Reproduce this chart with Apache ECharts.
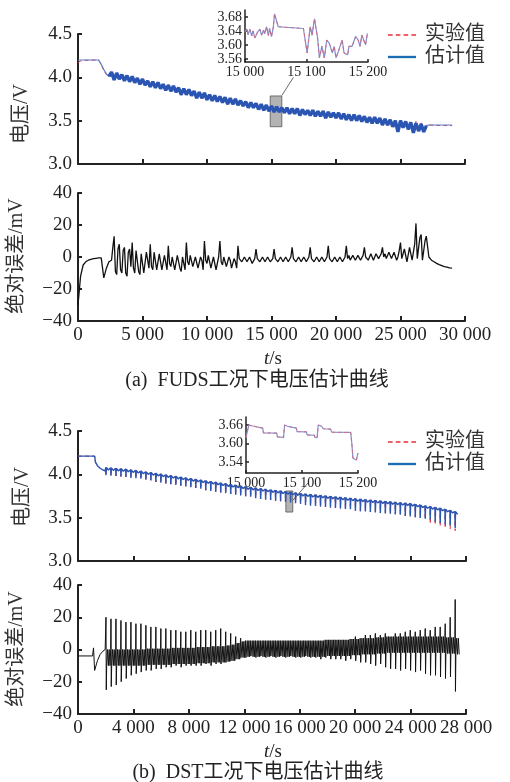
<!DOCTYPE html>
<html>
<head>
<meta charset="utf-8">
<script src="https://cdn.jsdelivr.net/npm/echarts@6/dist/echarts.min.js"></script>
<style>
html, body { margin: 0; padding: 0; background: #fff; }
#chartmain { width: 510px; height: 782px; }
</style>
</head>
<body>
<div id="chartmain"></div>
<script>
var FONT = "'Liberation Serif', 'Noto Sans CJK SC', serif";

// FUDS: 每200 s一个采样点, 0 ~ 29000 s
var fudsStep = 200;
var fudsVolt = [
    4.20, 4.20, 4.20, 4.20, 4.20, 4.20, 4.20, 4.20, 4.20, 4.15, 4.09, 4.04, 4.01,
    4.06, 3.97, 4.05, 3.98, 4.03, 3.96, 4.02, 3.95, 4.01, 3.94,
    3.99, 3.92, 3.98, 3.91, 3.96, 3.89, 3.95, 3.88, 3.94, 3.87,
    3.92, 3.85, 3.91, 3.84, 3.90, 3.83, 3.88, 3.80, 3.87, 3.80,
    3.86, 3.79, 3.84, 3.76, 3.83, 3.76, 3.82, 3.74, 3.80, 3.73,
    3.79, 3.72, 3.78, 3.71, 3.77, 3.69, 3.76, 3.69, 3.75, 3.68,
    3.73, 3.67, 3.72, 3.65, 3.71, 3.65, 3.70, 3.63, 3.69, 3.62,
    3.68, 3.61, 3.67, 3.60, 3.66, 3.60, 3.65, 3.59, 3.65, 3.58,
    3.64, 3.58, 3.64, 3.56, 3.63, 3.57, 3.62, 3.56, 3.62, 3.55,
    3.61, 3.55, 3.61, 3.53, 3.60, 3.54, 3.59, 3.53, 3.59, 3.52,
    3.58, 3.51, 3.57, 3.50, 3.57, 3.50, 3.56, 3.49, 3.55, 3.48,
    3.54, 3.47, 3.54, 3.47, 3.53, 3.45, 3.52, 3.45, 3.51, 3.43,
    3.50, 3.37, 3.50, 3.42, 3.49, 3.40, 3.48, 3.36, 3.47, 3.38,
    3.46, 3.37, 3.44,
    3.45, 3.45, 3.45, 3.45, 3.45, 3.45, 3.45, 3.45, 3.45, 3.45
];
// 工况段(噪声带)在采样序列中的起止下标
var fudsBandFrom = 12, fudsBandTo = 136;
var fudsErr = [ // mV
    -30, -12, -5, -3, -2, -1.5, -1, -0.8, -0.6, -0.5, -13, -7, -3,
    -2, 13, -11, 8, -10, 6, -12, 5, 9, -10,
    4, -11, 3, -9, 2, 8, -8, 2, -9, 1,
    -8, 0, 7, -6, 1, -7, 0, -9, -1, 9,
    -5, 0, -7, -1, -8, -2, 10, -4, 0, -6,
    -1, -9, 10, -5, -1, -7, -2, -8, -3, 7,
    -1, -4, -1, -4, -2, -4, 5, -1, -3, -1,
    -3, -1, -4, 5, -1, -3, 0, -3, -1, -3,
    6, 0, -2, 0, -3, -1, -3, 6, 0, -2,
    0, -2, -1, -3, 7, 0, -2, 0, -2, -1,
    -3, 7, 1, -1, 1, -1, 0, -2, 6, 1,
    0, 1, -1, 1, 0, 6, 2, 0, 3, -1,
    2, 0, 9, 0, 4, -2, 5, -3, 21, 0,
    14, -2, 13,
    0, -2, -3, -4, -4.8, -5.4, -6, -6.4, -6.8, -7
];
// 噪声段中间时刻(t+100 s)的误差, 2700 ~ 26900 s
var fudsErrFirstBand = 13;
var fudsErrAlt = [
    6, -9, 5, -8, 4, -10, 3, -6, -7, 4,
    -9, 2, -10, 3, -7, -6, 3, -8, 2, -8,
    1, -8, -4, 0, -8, 1, -7, 0, -8, -3,
    1, -6, 0, -7, 0, -8, -2, 1, -7, 0,
    -8, 0, -3, 0, -6, 0, -7, -1, -7, -1,
    -3, 0, -3, 0, -4, -1, -1, -3, 0, -3,
    0, -3, -1, -1, -3, 0, -3, 0, -3, 0,
    -1, -3, 0, -3, 0, -3, 0, -1, -3, 0,
    -3, 0, -3, 0, -1, -3, 0, -3, 0, -3,
    0, -1, -2, 1, -2, 1, -2, 1, 0, -2,
    2, -2, 2, -1, 2, 0, -1, 3, -1, 3,
    -2, 4, -1, 5, -3, 6, -2, 8, -1, 12,
    -2, 10
];
var fudsZoomTime = [15000, 15003, 15005, 15008, 15011, 15013, 15016, 15020, 15024, 15027,
    15030, 15032, 15035, 15038, 15040, 15043, 15046, 15048, 15051, 15054, 15056, 15095,
    15101, 15106, 15109, 15113, 15115, 15118, 15121, 15125, 15129, 15133, 15137, 15142,
    15145, 15148, 15152, 15158, 15161, 15167, 15169, 15174, 15180, 15184, 15187, 15190,
    15192, 15196, 15199];
var fudsZoomVolt = [3.638, 3.645, 3.630, 3.644, 3.626, 3.640, 3.620, 3.635, 3.645, 3.628,
    3.642, 3.632, 3.652, 3.627, 3.647, 3.624, 3.650, 3.689, 3.685, 3.652, 3.647, 3.647,
    3.577, 3.652, 3.628, 3.675, 3.680, 3.620, 3.563, 3.596, 3.563, 3.614, 3.605, 3.577,
    3.596, 3.563, 3.582, 3.614, 3.577, 3.572, 3.596, 3.596, 3.624, 3.614, 3.596, 3.628,
    3.619, 3.600, 3.633];

// DST: 静置段 + 每360 s一个循环
var dstPreTime = [0, 1050, 1120, 1200, 1260, 1400, 1600, 1800, 1960];
var dstPreVolt = [4.21, 4.21, 4.21, 4.21, 4.14, 4.10, 4.07, 4.05, 4.04];
var dstPreErr = [-4, -4, 1, -13, -12, -7, -3, -1, 0];
var dstStart = 2000;
var dstPeriod = 360;
var dstTop = [
    4.08, 4.075, 4.07, 4.065, 4.06, 4.052, 4.046, 4.038, 4.029, 4.021,
    4.012, 4.004, 3.995, 3.987, 3.978, 3.97, 3.961, 3.952, 3.944, 3.935,
    3.927, 3.918, 3.91, 3.901, 3.893, 3.884, 3.876, 3.867, 3.858, 3.851,
    3.844, 3.837, 3.83, 3.823, 3.816, 3.809, 3.802, 3.795, 3.788, 3.78,
    3.775, 3.769, 3.764, 3.759, 3.753, 3.748, 3.742, 3.737, 3.731, 3.726,
    3.72, 3.715, 3.71, 3.705, 3.7, 3.695, 3.69, 3.685, 3.68, 3.675,
    3.67, 3.665, 3.656, 3.647, 3.638, 3.629, 3.62, 3.61, 3.598, 3.585,
    3.57
];
var dstLow = [
    3.99, 3.985, 3.98, 3.975, 3.97, 3.962, 3.956, 3.948, 3.939, 3.931,
    3.912, 3.904, 3.895, 3.887, 3.878, 3.87, 3.861, 3.852, 3.844, 3.835,
    3.817, 3.808, 3.8, 3.791, 3.783, 3.774, 3.766, 3.757, 3.748, 3.741,
    3.724, 3.717, 3.71, 3.703, 3.696, 3.689, 3.682, 3.675, 3.668, 3.66,
    3.645, 3.639, 3.634, 3.629, 3.623, 3.618, 3.612, 3.607, 3.601, 3.596,
    3.58, 3.575, 3.57, 3.565, 3.56, 3.555, 3.55, 3.545, 3.54, 3.535,
    3.52, 3.515, 3.506, 3.497, 3.488, 3.479, 3.45, 3.44, 3.42, 3.41,
    3.38
];
// 末尾几个循环实验值比估计值更低
var dstExpLowTail = [3.43, 3.42, 3.40, 3.38, 3.37, 3.35];
var dstBandV = 0.03;
var dstErrHi = [
    20, 19, 19, 18, 17, 17, 16, 16, 15, 14,
    14, 13, 13, 12, 12, 11, 11, 12, 11, 12,
    12, 11, 12, 13, 11, 10, 8, 7, 6, 6,
    5, 6, 5, 5, 6, 5, 5, 6, 5, 5,
    6, 5, 6, 5, 6, 6, 6, 7, 6, 7,
    8, 8, 9, 9, 10, 9, 10, 9, 10, 10,
    11, 12, 11, 12, 13, 12, 14, 14, 16, 20,
    31
];
var dstErrLo = [
    -25, -23, -22, -20, -18, -16, -15, -14, -13, -13,
    -12, -12, -11, -11, -10, -11, -10, -10, -10, -10,
    -9, -10, -9, -9, -8, -7, -6, -5, -5, -4,
    -5, -4, -5, -4, -5, -4, -5, -4, -5, -5,
    -4, -5, -5, -6, -5, -6, -6, -6, -7, -6,
    -7, -8, -8, -9, -10, -9, -11, -12, -12, -13,
    -12, -13, -14, -13, -15, -16, -16, -17, -18, -17,
    -26
];
var dstErrMid = [
    -5, -5, -5, -5, -5, -5, -5, -5, -4.5, -4.5,
    -4.5, -4.5, -4.5, -4, -4, -4, -4, -4, -3.5, -3.5,
    -3.5, -3, -3, -3, -2.5, -2, -1, 0, 0.5, 0.5,
    0.5, 0.5, 0.5, 0.5, 0.5, 0.5, 0.5, 0.5, 0.5, 0.5,
    0.5, 0.5, 0.5, 0.5, 1, 1, 1, 1, 1, 1.5,
    1.5, 2, 2, 2, 2.5, 2.5, 3, 3, 3, 3,
    3, 3, 3, 3, 3, 3, 3, 3, 2.5, 2.5,
    2
];
var dstErrBand = 5;
var dstZoomTime = [15000, 15001, 15005, 15012, 15013, 15030, 15031, 15055, 15056, 15067,
    15069, 15074, 15077, 15090, 15091, 15108, 15109, 15122, 15123, 15127, 15129, 15135,
    15138, 15151, 15153, 15187, 15189, 15191, 15197, 15200];
var dstZoomVolt = [3.62, 3.62, 3.66, 3.657, 3.651, 3.650, 3.635, 3.634, 3.622, 3.620,
    3.66, 3.656, 3.651, 3.650, 3.639, 3.638, 3.628, 3.627, 3.620, 3.619, 3.66, 3.656,
    3.648, 3.647, 3.637, 3.636, 3.60, 3.553, 3.547, 3.569];

// ---- 组装数据 ----
var fudsEstData = fudsVolt.map(function (v, i) { return [i * fudsStep, v]; });
var fudsBandData = fudsEstData.slice(fudsBandFrom, fudsBandTo);
var fudsExpData = fudsVolt.map(function (v, i) { return [i * fudsStep, v + fudsErr[i] / 1000]; });
var fudsErrData = [];
fudsErr.forEach(function (e, i) {
    fudsErrData.push([i * fudsStep, e]);
    var k = i - fudsErrFirstBand;
    if (k >= 0 && k < fudsErrAlt.length) {
        fudsErrData.push([i * fudsStep + fudsStep / 2, fudsErrAlt[k]]);
    }
});

var dstEstData = [], dstExpData = [], dstErrData = [];
dstPreTime.forEach(function (t, i) {
    dstEstData.push([t, dstPreVolt[i]]);
    dstExpData.push([t, dstPreVolt[i]]);
    dstErrData.push([t, dstPreErr[i]]);
});
var tailFrom = dstTop.length - dstExpLowTail.length;
dstTop.forEach(function (top, i) {
    var t0 = dstStart + i * dstPeriod;
    var expLow = i >= tailFrom ? dstExpLowTail[i - tailFrom] : dstLow[i];
    dstEstData.push([t0, top], [t0 + 20, dstLow[i]], [t0 + 45, top], [t0 + 190, top - dstBandV]);
    dstExpData.push([t0, top], [t0 + 20, expLow], [t0 + 45, top], [t0 + 190, top - dstBandV]);
    var m = dstErrMid[i], b = dstErrBand;
    dstErrData.push([t0, m + b], [t0 + 20, dstErrHi[i]], [t0 + 40, dstErrLo[i]], [t0 + 70, m - b],
        [t0 + 130, m + b], [t0 + 190, m - b], [t0 + 250, m + b], [t0 + 310, m - b]);
});
var fudsZoomData = fudsZoomTime.map(function (t, i) { return [t, fudsZoomVolt[i]]; });
var dstZoomData = dstZoomTime.map(function (t, i) { return [t, dstZoomVolt[i]]; });

// ---- 坐标轴 ----
function thin(v) { return String(v).replace(/\B(?=(\d{3})+(?!\d))/g, ' '); }
function minus(v) { return v < 0 ? '\u2212' + (-v) : String(v); }

var AX = '#222';
function mainX(gi, max, itv, showLabel) {
    return {
        gridIndex: gi, type: 'value', min: 0, max: max, interval: itv,
        axisLine: { onZero: false, lineStyle: { color: AX, width: 2 } },
        axisTick: { inside: true, length: 5, lineStyle: { color: AX, width: 2 } },
        axisLabel: { show: showLabel, color: AX, fontSize: 19, fontFamily: FONT, margin: 5, formatter: thin },
        splitLine: { show: false }
    };
}
function mainY(gi, min, max, itv, fmt) {
    return {
        gridIndex: gi, type: 'value', min: min, max: max, interval: itv,
        axisLine: { show: true, onZero: false, lineStyle: { color: AX, width: 2 } },
        axisTick: { show: true, inside: true, length: 4, lineStyle: { color: AX, width: 2 } },
        axisLabel: { color: AX, fontSize: 19, fontFamily: FONT, margin: 6, formatter: fmt },
        splitLine: { show: false }
    };
}
function insetX(gi) {
    return {
        gridIndex: gi, type: 'value', min: 15000, max: 15200, interval: 100,
        axisLine: { onZero: false, lineStyle: { color: AX, width: 1.5 } },
        axisTick: { inside: true, length: 3, lineStyle: { color: AX, width: 1.5 } },
        axisLabel: { color: AX, fontSize: 14, fontFamily: FONT, margin: 3, formatter: thin },
        splitLine: { show: false }
    };
}
function insetY(gi, min, max, ticks) {
    return {
        gridIndex: gi, type: 'value', min: min, max: max,
        axisLine: { show: true, onZero: false, lineStyle: { color: AX, width: 1.5 } },
        axisTick: { show: true, inside: true, length: 3, customValues: ticks, lineStyle: { color: AX, width: 1.5 } },
        axisLabel: { color: AX, fontSize: 14, fontFamily: FONT, margin: 3, customValues: ticks,
            formatter: function (v) { return v.toFixed(2); } },
        splitLine: { show: false }
    };
}

var RED = '#e3313b', BLUE = '#2b55b2', LBLUE = '#1d6db5', BLK = '#111';

function line(name, xi, data, color, width, type, z) {
    return {
        name: name, type: 'line', xAxisIndex: xi, yAxisIndex: xi, data: data,
        symbol: 'none', color: color, z: z, silent: true,
        lineStyle: { color: color, width: width, type: type }
    };
}
function zoomBox(xi, box, link) {
    return {
        type: 'line', xAxisIndex: xi, yAxisIndex: xi, data: [], z: 5, silent: true,
        markArea: {
            silent: true,
            itemStyle: { color: '#b3b3b3', borderColor: '#555', borderWidth: 0.8, opacity: 1 },
            data: [[{ coord: box[0] }, { coord: box[1] }]]
        },
        markLine: {
            silent: true, symbol: 'none', label: { show: false },
            lineStyle: { color: '#444', width: 0.8, type: 'solid' },
            data: [[{ coord: link[0] }, { coord: link[1] }]]
        }
    };
}

function vtext(txt, x, y) {
    return { type: 'text', x: x, y: y, rotation: Math.PI / 2,
        style: { text: txt, font: '20px ' + FONT, fill: '#333', align: 'center', verticalAlign: 'middle' } };
}
function htext(txt, x, y, size) {
    return { type: 'text', x: x, y: y,
        style: { text: txt, fontSize: size, fontFamily: FONT, fill: '#222', align: 'center', verticalAlign: 'middle',
            rich: { i: { fontStyle: 'italic', fontSize: size, fontFamily: FONT, fill: '#222' } } } };
}
// 图例图标: 虚线 / 粗实线
var DASH_ICON = 'path://M0,0h6v2h-6zM10,0h6v2h-6zM20,0h6v2h-6zM30,0h6v2h-6z';
var SOLID_ICON = 'path://M0,0h36v3h-36z';
function legendCfg(top) {
    return {
        orient: 'vertical', left: 383, top: top, itemGap: 2, itemWidth: 28, itemHeight: 3,
        textStyle: { fontSize: 20, color: '#333', fontFamily: FONT, padding: [0, 0, 0, 4] },
        data: [
            { name: '实验值', icon: DASH_ICON, itemStyle: { color: RED } },
            { name: '估计值', icon: SOLID_ICON, itemStyle: { color: LBLUE } }
        ]
    };
}

var chart = echarts.init(document.getElementById('chartmain'), null, { renderer: 'canvas' });
chart.setOption({
    animation: false,
    backgroundColor: '#fff',
    grid: [
        { left: 78, right: 45, top: 34, height: 130, outerBoundsMode: 'none' },
        { left: 78, right: 45, top: 193, height: 128, outerBoundsMode: 'none' },
        { left: 78, right: 44, top: 431, height: 130, outerBoundsMode: 'none' },
        { left: 78, right: 44, top: 585, height: 129, outerBoundsMode: 'none' },
        { left: 245, width: 123, top: 10, height: 52, outerBoundsMode: 'none' },
        { left: 246, width: 112, top: 417, height: 56, outerBoundsMode: 'none' }
    ],
    xAxis: [
        mainX(0, 30000, 5000, false),
        mainX(1, 30000, 5000, true),
        mainX(2, 28000, 4000, false),
        mainX(3, 28000, 4000, true),
        insetX(4),
        insetX(5)
    ],
    yAxis: [
        mainY(0, 3, 4.5, 0.5, function (v) { return v.toFixed(1); }),
        mainY(1, -40, 40, 20, minus),
        mainY(2, 3, 4.5, 0.5, function (v) { return v.toFixed(1); }),
        mainY(3, -40, 40, 20, minus),
        insetY(4, 3.551, 3.70, [3.56, 3.60, 3.64, 3.68]),
        insetY(5, 3.505, 3.686, [3.54, 3.60, 3.66])
    ],
    legend: [legendCfg(20), legendCfg(427)],
    series: [
        line('实验值', 0, fudsExpData, RED, 1, [4, 3], 2),
        line('估计值', 0, fudsEstData, '#5b7fcc', 1.2, 'solid', 3),
        line('估计值', 0, fudsBandData, BLUE, 3.4, 'solid', 3),
        zoomBox(0, [[14900, 3.43], [15800, 3.785]], [[15800, 3.79], [16700, 4.0]]),
        line('FUDS误差', 1, fudsErrData, BLK, 1.3, 'solid', 3),
        line('实验值', 2, dstExpData, RED, 1, [4, 3], 2),
        line('估计值', 2, dstEstData, BLUE, 1.4, 'solid', 3),
        zoomBox(2, [[15000, 3.565], [15500, 3.808]], [[15500, 3.70], [16600, 3.90]]),
        line('DST误差', 3, dstErrData, BLK, 1, 'solid', 3),
        line('FUDS局部估计', 4, fudsZoomData, '#8190d6', 1.2, 'solid', 2),
        line('FUDS局部实验', 4, fudsZoomData, '#d86a7a', 1, [3, 3], 3),
        line('DST局部估计', 5, dstZoomData, '#8190d6', 1.2, 'solid', 2),
        line('DST局部实验', 5, dstZoomData, '#d86a7a', 1, [3, 3], 3)
    ],
    graphic: [
        vtext('电压/V', 22, 114),
        vtext('绝对误差/mV', 17, 256),
        vtext('电压/V', 23, 497),
        vtext('绝对误差/mV', 17, 649),
        htext('{i|t}/s', 273, 359, 19),
        htext('(a)  FUDS工况下电压估计曲线', 257, 381, 20),
        htext('{i|t}/s', 273, 752, 19),
        htext('(b)  DST工况下电压估计曲线', 258, 773, 20)
    ]
});
</script>
</body>
</html>
